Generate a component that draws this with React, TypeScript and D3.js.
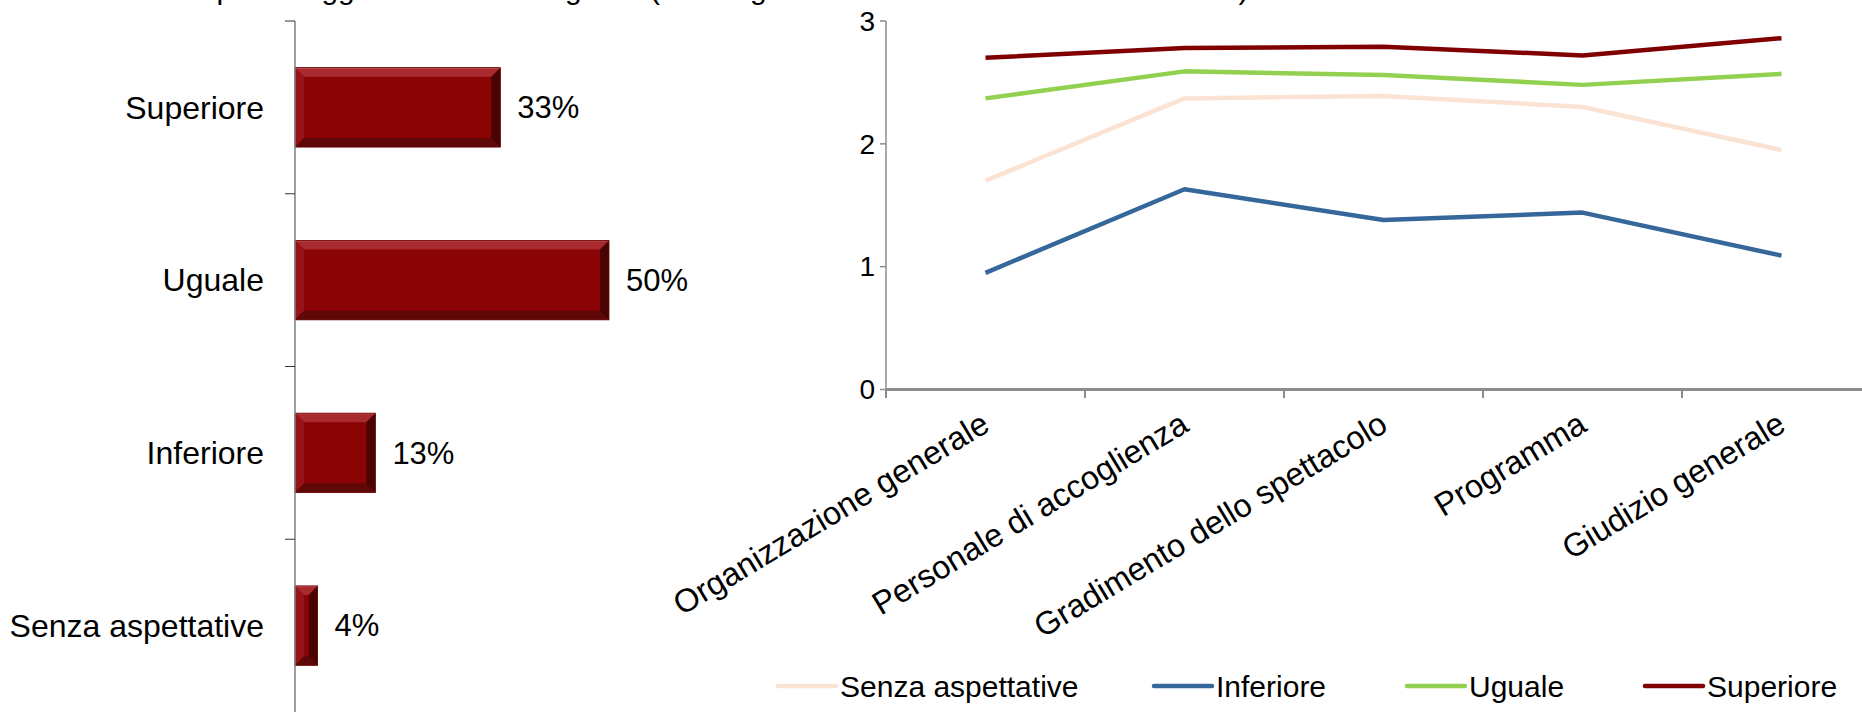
import * as d3 from 'd3'

const title = 'Attese per il soggetto e il relativo grado (media giudizi su tutte le dimensioni valutate)'

const barCategories = ['Superiore', 'Uguale', 'Inferiore', 'Senza aspettative']
const barValues = [0.327, 0.5, 0.128, 0.036]

const lineCategories = [
  'Organizzazione generale',
  'Personale di accoglienza',
  'Gradimento dello spettacolo',
  'Programma',
  'Giudizio generale',
]
const seriesNames = ['Senza aspettative', 'Inferiore', 'Uguale', 'Superiore']
const senzaValues = [1.7, 2.37, 2.39, 2.3, 1.95]
const inferioreValues = [0.95, 1.63, 1.38, 1.44, 1.09]
const ugualeValues = [2.37, 2.59, 2.56, 2.48, 2.57]
const superioreValues = [2.7, 2.78, 2.79, 2.72, 2.86]
const yTicks = [0, 1, 2, 3]

const seriesColors = ['#FBE3D4', '#35679A', '#92D050', '#800000']
const seriesValues = [senzaValues, inferioreValues, ugualeValues, superioreValues]

const W = 1862
const H = 712
const font = "'Liberation Sans', Arial, sans-serif"

const Bar = ({x0, x1, y0, y1}: {x0: number, x1: number, y0: number, y1: number}) => {
  const b = Math.min(9, (x1 - x0) / 2)
  const pts = (p: number[][]) => p.map((d) => d.join(',')).join(' ')
  return (
    <g>
      <rect x={x0} y={y0} width={x1 - x0} height={y1 - y0} fill="#8A0305"/>
      <polygon points={pts([[x0, y0], [x1, y0], [x1 - b, y0 + b], [x0 + b, y0 + b]])} fill="#A92A2E"/>
      <polygon points={pts([[x0, y0], [x0 + b, y0 + b], [x0 + b, y1 - b], [x0, y1]])} fill="#971316"/>
      <polygon points={pts([[x0, y1], [x0 + b, y1 - b], [x1 - b, y1 - b], [x1, y1]])} fill="#5E0808"/>
      <polygon points={pts([[x1, y0], [x1, y1], [x1 - b, y1 - b], [x1 - b, y0 + b]])} fill="#4A0303"/>
      <line x1={x0} x2={x1} y1={y0 + 0.5} y2={y0 + 0.5} stroke="#C65A5E" strokeWidth={1}/>
      <rect x={x0} y={y0} width={x1 - x0} height={y1 - y0} fill="none" stroke="#6A0A0A" strokeWidth={0.8}/>
    </g>
  )
}

const App = () => {
  // left bar chart
  const barAxisX = 295
  const yBand = d3.scaleBand<string>()
    .domain(barCategories)
    .range([21, 712])
    .paddingInner(0.54)
    .paddingOuter(0.27)
  const xBar = d3.scaleLinear().domain([0, 0.5]).range([barAxisX, 609])
  const pct = d3.format('.0%')
  const step = yBand.step()
  const bandTicks = d3.range(barCategories.length).map((i) => 21 + i * step)

  // right line chart
  const x = d3.scalePoint<string>()
    .domain(lineCategories)
    .range([886, 886 + 199 * 5])
    .padding(0.5)
  const y = d3.scaleLinear().domain([0, 3]).range([389.5, 21])
  const line = d3.line<number>()
    .x((_, i) => x(lineCategories[i]) as number)
    .y((d) => y(d))
  const catTicks = d3.range(lineCategories.length + 1).map((i) => 886 + i * x.step())

  const legendX = [778, 1154, 1407, 1645]

  return (
    <svg width={W} height={H} viewBox={`0 0 ${W} ${H}`}
         style={{position: 'absolute', left: 0, top: 0, display: 'block', background: '#fff'}}
         fontFamily={font}>
      <text x={123} y={-1} fontSize={30} fill="#000">{title}</text>

      {/* bar chart */}
      {barCategories.map((c, i) => {
        const y0 = yBand(c) as number
        const x1 = xBar(barValues[i])
        return (
          <g key={c}>
            <Bar x0={barAxisX} x1={x1} y0={y0} y1={y0 + yBand.bandwidth()}/>
            <text x={x1 + 17} y={y0 + yBand.bandwidth() / 2} dy="0.35em" fontSize={31}>
              {pct(barValues[i])}
            </text>
            <text x={264} y={y0 + yBand.bandwidth() / 2} dy="0.35em" fontSize={32} textAnchor="end">
              {c}
            </text>
          </g>
        )
      })}
      <line x1={barAxisX} x2={barAxisX} y1={21} y2={H} stroke="#7f7f7f" strokeWidth={1.5}/>
      {bandTicks.map((t) => (
        <line key={t} x1={barAxisX - 10} x2={barAxisX} y1={t} y2={t} stroke="#333" strokeWidth={1}/>
      ))}

      {/* line chart */}
      <line x1={886} x2={886} y1={21} y2={389.5} stroke="#8c8c8c" strokeWidth={1.5}/>
      {yTicks.map((t) => (
        <g key={t}>
          <line x1={880} x2={886} y1={y(t)} y2={y(t)} stroke="#8c8c8c" strokeWidth={1.5}/>
          <text x={875} y={y(t)} dy="0.35em" textAnchor="end" fontSize={28}>{t}</text>
        </g>
      ))}
      <line x1={886} x2={W} y1={389.5} y2={389.5} stroke="#8c8c8c" strokeWidth={3}/>
      {catTicks.map((t) => (
        <line key={t} x1={t} x2={t} y1={389.5} y2={398} stroke="#8c8c8c" strokeWidth={2}/>
      ))}
      {lineCategories.map((c) => (
        <text key={c} fontSize={32.5} textAnchor="end"
              transform={`translate(${(x(c) as number) + 6},${430}) rotate(-31)`}>
          {c}
        </text>
      ))}
      {seriesValues.map((vals, i) => (
        <path key={seriesNames[i]} d={line(vals) as string} fill="none"
              stroke={seriesColors[i]} strokeWidth={4.5} strokeLinejoin="round"/>
      ))}

      {/* legend */}
      {seriesNames.map((s, i) => (
        <g key={s}>
          <line x1={legendX[i]} x2={legendX[i] + 58} y1={686} y2={686}
                stroke={seriesColors[i]} strokeWidth={4.5} strokeLinecap="round"/>
          <text x={legendX[i] + 62} y={686} dy="0.35em" fontSize={30}>{s}</text>
        </g>
      ))}
    </svg>
  )
}

export default App
